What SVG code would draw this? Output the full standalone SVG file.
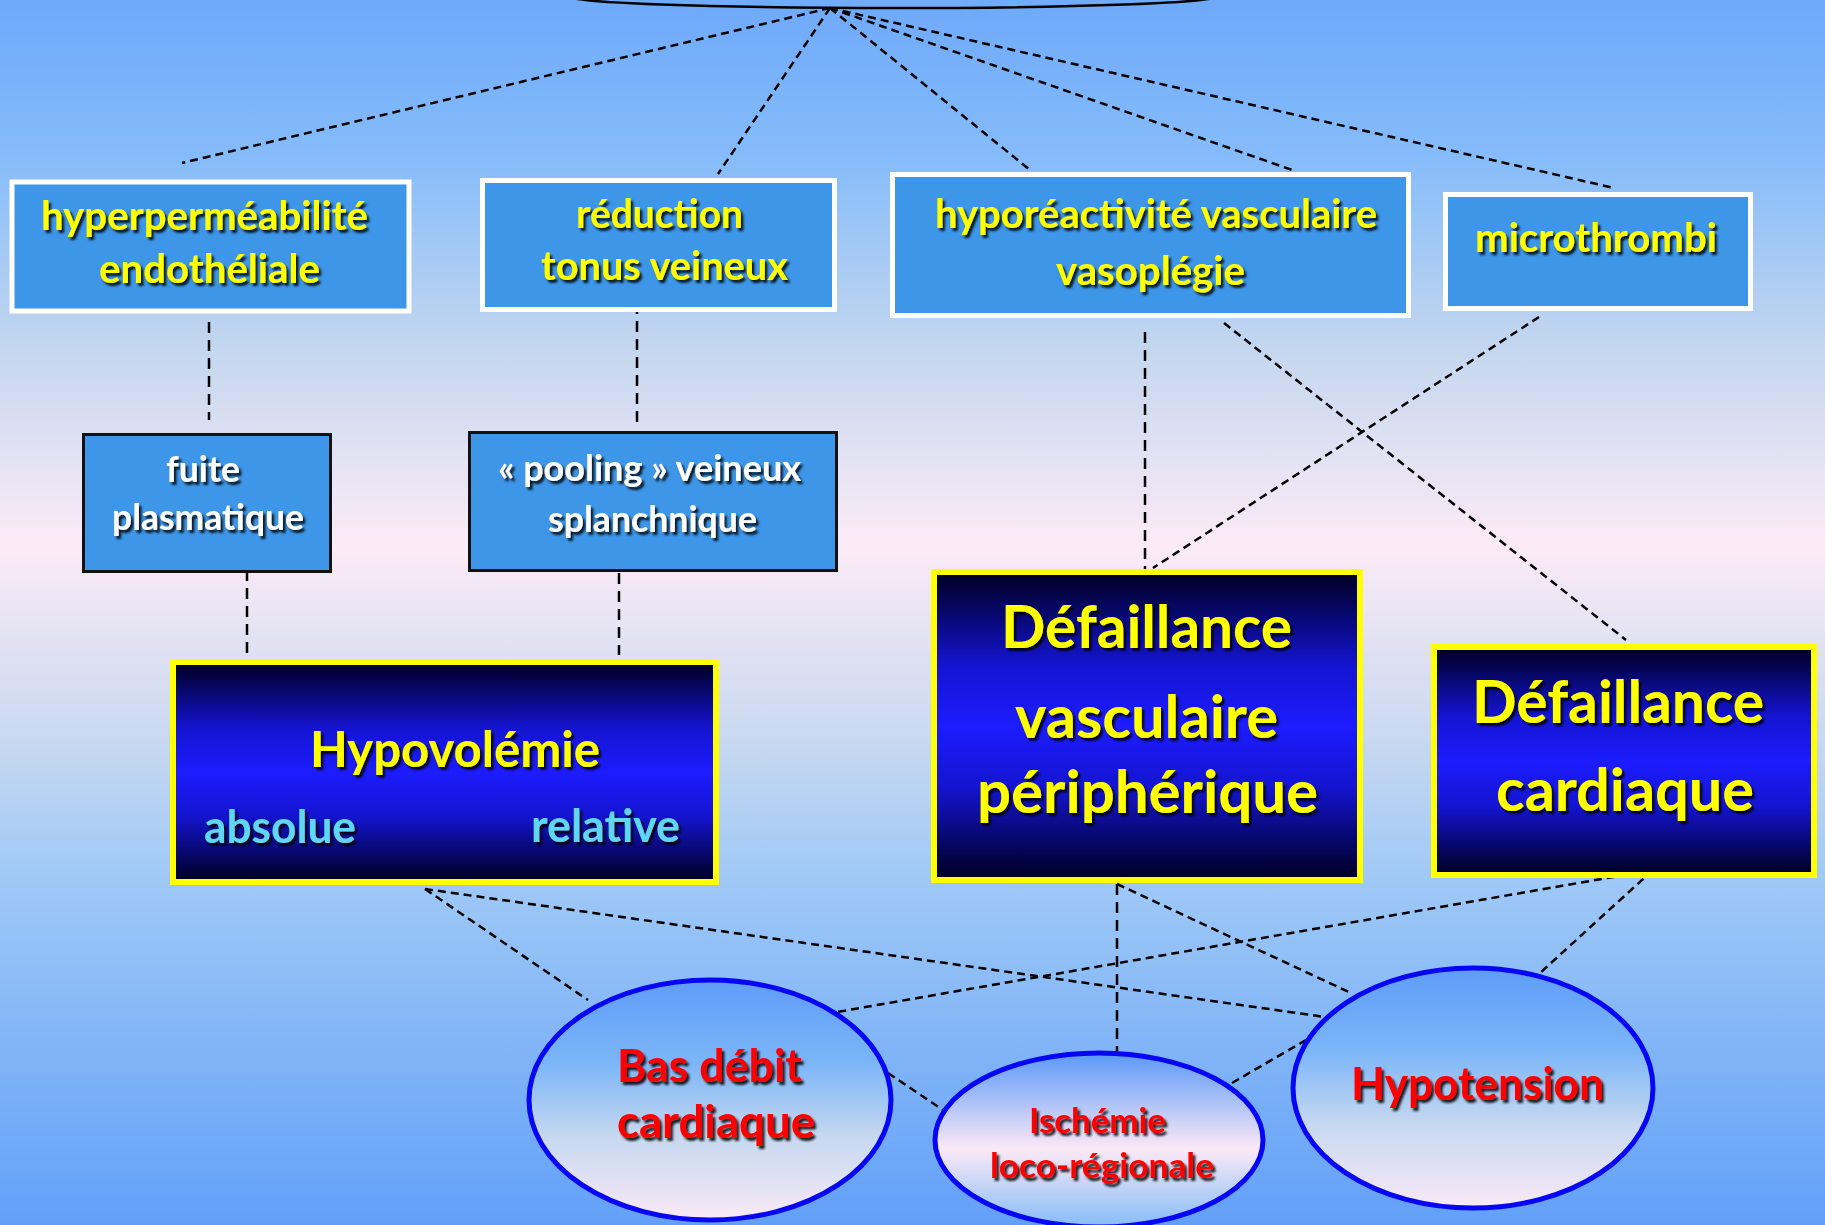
<svg xmlns="http://www.w3.org/2000/svg" width="1825" height="1225" viewBox="0 0 1825 1225">
<defs>
<linearGradient id="bg" x1="0" y1="0" x2="0" y2="1">
<stop offset="0" stop-color="#6ea9fa"/>
<stop offset="0.13" stop-color="#86bcfa"/>
<stop offset="0.28" stop-color="#c2d6ef"/>
<stop offset="0.445" stop-color="#fcebf6"/>
<stop offset="0.6" stop-color="#c9d9f0"/>
<stop offset="0.72" stop-color="#9ec8f6"/>
<stop offset="1" stop-color="#62a0f8"/>
</linearGradient>
<linearGradient id="dark" x1="0" y1="0" x2="0" y2="1">
<stop offset="0" stop-color="#000020"/>
<stop offset="0.1" stop-color="#05055a"/>
<stop offset="0.3" stop-color="#1414d0"/>
<stop offset="0.5" stop-color="#1c1cff"/>
<stop offset="0.7" stop-color="#1414d0"/>
<stop offset="0.9" stop-color="#05055a"/>
<stop offset="1" stop-color="#000020"/>
</linearGradient>
<linearGradient id="ell" x1="0" y1="0" x2="0" y2="1">
<stop offset="0" stop-color="#5e9cf8"/>
<stop offset="0.35" stop-color="#7cb6f8"/>
<stop offset="0.65" stop-color="#c6d8f0"/>
<stop offset="1" stop-color="#f9e9f6"/>
</linearGradient>
<linearGradient id="ell2" x1="0" y1="0" x2="0" y2="1">
<stop offset="0" stop-color="#5a98f8"/>
<stop offset="0.55" stop-color="#fbe9f6"/>
<stop offset="1" stop-color="#86bcf8"/>
</linearGradient>
<filter id="sh" x="-10%" y="-30%" width="120%" height="160%">
<feDropShadow dx="2.5" dy="3" stdDeviation="1.2" flood-color="#000" flood-opacity="0.85"/>
</filter>
<style>
.t{font-family:Lato,"Open Sans","DejaVu Sans",sans-serif;font-weight:bold;text-anchor:middle;filter:url(#sh)}
.y{fill:#ffff00}.w{fill:#ffffff}.r{fill:#ff0000}.c{fill:#5fd6f4}
.lb{fill:#3d96e8;stroke:#ffffff;stroke-width:5}
.bb{fill:#3d96e8;stroke:#111111;stroke-width:3}
.db{fill:url(#dark);stroke:#ffff00;stroke-width:6}
.el{stroke:#0606f4;stroke-width:5}
.cn line{stroke:#000;stroke-width:2.5;stroke-dasharray:8 5;fill:none}
.cn line.v{stroke-dasharray:11 7}
</style>
</defs>
<rect x="0" y="0" width="1825" height="1225" fill="url(#bg)"/>
<g id="top">
<ellipse cx="893" cy="-4" rx="328" ry="12" fill="#70acfa" stroke="#000" stroke-width="2.5"/>
</g>
<g id="connectors" class="cn">
<line x1="830" y1="8" x2="182" y2="163"/>
<line x1="830" y1="8" x2="718" y2="174"/>
<line x1="830" y1="8" x2="1030" y2="170"/>
<line x1="830" y1="8" x2="1295" y2="171"/>
<line x1="830" y1="8" x2="1614" y2="188"/>
<line class="v" x1="209" y1="322" x2="209" y2="420"/>
<line class="v" x1="637" y1="303" x2="637" y2="422"/>
<line class="v" x1="247" y1="570" x2="247" y2="655"/>
<line class="v" x1="619" y1="573" x2="619" y2="655"/>
<line class="v" x1="1145" y1="332" x2="1145" y2="571"/>
<line x1="1224" y1="323" x2="1626" y2="640"/>
<line x1="1539" y1="317" x2="1153" y2="568"/>
<line x1="425" y1="889" x2="588" y2="1000"/>
<line x1="425" y1="889" x2="1325" y2="1017"/>
<line class="v" x1="1117" y1="884" x2="1117" y2="1052"/>
<line x1="1117" y1="884" x2="1351" y2="993"/>
<line x1="1653" y1="870" x2="837" y2="1012"/>
<line x1="1653" y1="870" x2="1540" y2="973"/>
<line x1="888" y1="1073" x2="943" y2="1110"/>
<line x1="1232" y1="1083" x2="1306" y2="1040"/>
</g>
<g id="n-hyperpermeabilite">
<rect class="lb" x="12" y="182" width="397" height="129"/>
<text class="t y" x="204.5" y="230" font-size="41" textLength="327" lengthAdjust="spacingAndGlyphs">hyperperméabilité</text>
<text class="t y" x="209.5" y="283" font-size="41" textLength="221" lengthAdjust="spacingAndGlyphs">endothéliale</text>
</g>
<g id="n-reduction">
<rect class="lb" x="482.5" y="180.5" width="352" height="129"/>
<text class="t y" x="659.5" y="228" font-size="41" textLength="167" lengthAdjust="spacingAndGlyphs">réduction</text>
<text class="t y" x="664.5" y="280" font-size="41" textLength="247" lengthAdjust="spacingAndGlyphs">tonus veineux</text>
</g>
<g id="n-hyporeactivite">
<rect class="lb" x="892.5" y="174.5" width="516" height="141"/>
<text class="t y" x="1156" y="228" font-size="41" textLength="442" lengthAdjust="spacingAndGlyphs">hyporéactivité vasculaire</text>
<text class="t y" x="1150.5" y="285" font-size="41" textLength="189" lengthAdjust="spacingAndGlyphs">vasoplégie</text>
</g>
<g id="n-microthrombi">
<rect class="lb" x="1445.5" y="194.5" width="305" height="114"/>
<text class="t y" x="1596" y="252" font-size="41" textLength="242" lengthAdjust="spacingAndGlyphs">microthrombi</text>
</g>
<g id="n-fuite">
<rect class="bb" x="83.5" y="434.5" width="247" height="137"/>
<text class="t w" x="203" y="482" font-size="36" textLength="74" lengthAdjust="spacingAndGlyphs">fuite</text>
<text class="t w" x="208" y="530" font-size="36" textLength="192" lengthAdjust="spacingAndGlyphs">plasmatique</text>
</g>
<g id="n-pooling">
<rect class="bb" x="469.5" y="432.5" width="367" height="138"/>
<text class="t w" x="649.5" y="481" font-size="36" textLength="303" lengthAdjust="spacingAndGlyphs">« pooling » veineux</text>
<text class="t w" x="652.5" y="532" font-size="36" textLength="209" lengthAdjust="spacingAndGlyphs">splanchnique</text>
</g>
<g id="n-hypovolemie">
<rect class="db" x="173" y="662" width="543" height="220"/>
<text class="t y" x="455" y="767" font-size="50" textLength="290" lengthAdjust="spacingAndGlyphs">Hypovolémie</text>
<text class="t c" x="280" y="843" font-size="45" textLength="152" lengthAdjust="spacingAndGlyphs">absolue</text>
<text class="t c" x="605.5" y="842" font-size="45" textLength="149" lengthAdjust="spacingAndGlyphs">relative</text>
</g>
<g id="n-defaillance-vasculaire">
<rect class="db" x="934" y="572" width="426" height="308"/>
<text class="t y" x="1146.5" y="648" font-size="59" textLength="291" lengthAdjust="spacingAndGlyphs">Défaillance</text>
<text class="t y" x="1146.5" y="738" font-size="59" textLength="263" lengthAdjust="spacingAndGlyphs">vasculaire</text>
<text class="t y" x="1147.5" y="813" font-size="59" textLength="341" lengthAdjust="spacingAndGlyphs">périphérique</text>
</g>
<g id="n-defaillance-cardiaque">
<rect class="db" x="1434" y="647" width="380" height="228"/>
<text class="t y" x="1618" y="723" font-size="59" textLength="292" lengthAdjust="spacingAndGlyphs">Défaillance</text>
<text class="t y" x="1625" y="811" font-size="59" textLength="258" lengthAdjust="spacingAndGlyphs">cardiaque</text>
</g>
<g id="n-bas-debit">
<ellipse class="el" cx="710" cy="1100" rx="181" ry="120" fill="url(#ell)"/>
<text class="t r" x="709.5" y="1082" font-size="45" textLength="185" lengthAdjust="spacingAndGlyphs">Bas débit</text>
<text class="t r" x="716" y="1138" font-size="45" textLength="198" lengthAdjust="spacingAndGlyphs">cardiaque</text>
</g>
<g id="n-ischemie">
<ellipse class="el" cx="1099" cy="1140" rx="164" ry="87" fill="url(#ell2)"/>
<text class="t r" x="1097.5" y="1133" font-size="35" textLength="137" lengthAdjust="spacingAndGlyphs">Ischémie</text>
<text class="t r" x="1102" y="1178" font-size="35" textLength="224" lengthAdjust="spacingAndGlyphs">loco-régionale</text>
</g>
<g id="n-hypotension">
<ellipse class="el" cx="1473" cy="1088" rx="180" ry="120" fill="url(#ell)"/>
<text class="t r" x="1477.5" y="1100" font-size="45" textLength="253" lengthAdjust="spacingAndGlyphs">Hypotension</text>
</g>
</svg>
